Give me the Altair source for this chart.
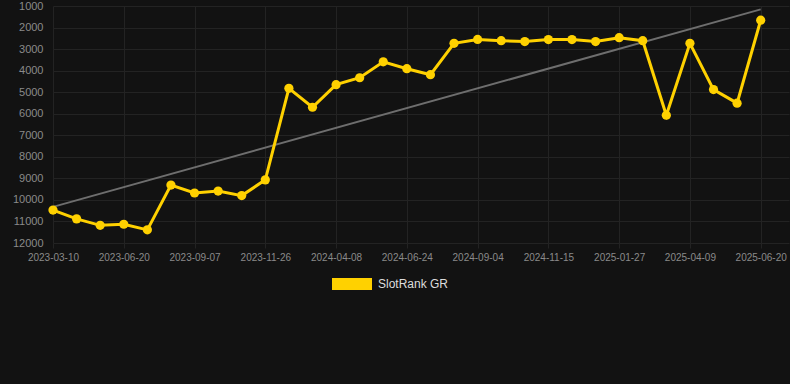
import altair as alt
import pandas as pd

# point index along the x axis (31 observations)
idx = list(range(31))
# rank values
rank = [10470, 10880, 11180, 11130, 11390, 9310, 9680, 9590, 9800, 9070,
        4820, 5700, 4650, 4330, 3590, 3910, 4190, 2730, 2550, 2610,
        2650, 2560, 2560, 2650, 2470, 2610, 6070, 2730, 4880, 5510, 1660]
series = ["SlotRank GR"] * 31

# tick labels (every third observation)
tick_labels = ["2023-03-10", "2023-06-20", "2023-09-07", "2023-11-26", "2024-04-08",
               "2024-06-24", "2024-09-04", "2024-11-15", "2025-01-27", "2025-04-09",
               "2025-06-20"]
y_ticks = [1000, 2000, 3000, 4000, 5000, 6000, 7000, 8000, 9000, 10000, 11000, 12000]

df = pd.DataFrame({"idx": idx, "rank": rank, "series": series})

YELLOW = "#FFD100"
label_expr = "[" + ",".join(f"'{t}'" for t in tick_labels) + "][round(datum.value/3)]"

x_enc = alt.X("idx:Q",
              scale=alt.Scale(domain=[0, 31.2], nice=False, zero=False),
              axis=alt.Axis(values=list(range(0, 31, 3)), labelExpr=label_expr,
                            title=None, grid=True, gridColor="#232323",
                            domain=False, ticks=True, tickColor="#232323", tickSize=5,
                            labelColor="#8a8a8a", labelFontSize=10, labelPadding=4,
                            labelOverlap=False, labelFlush=False, labelBound=False,
                            labelFont="Liberation Sans"))
y_enc = alt.Y("rank:Q",
              scale=alt.Scale(domain=[1000, 12000], reverse=True, nice=False, zero=False),
              axis=alt.Axis(values=y_ticks, format="d", title=None, grid=True,
                            gridColor="#232323", domain=False, ticks=False,
                            labelColor="#8a8a8a", labelFontSize=11, labelPadding=10,
                            labelOverlap=False, labelFlush=False,
                            labelFont="Liberation Sans"))

base = alt.Chart(df)

trend = base.transform_regression("idx", "rank", method="linear").mark_line(
    color="#6e6e6e", strokeWidth=2
).encode(x=x_enc, y=y_enc)

line = base.mark_line(color=YELLOW, strokeWidth=3).encode(x=x_enc, y=y_enc)

points = base.mark_circle(size=85, opacity=1).encode(
    x=x_enc, y=y_enc,
    color=alt.Color("series:N",
                    scale=alt.Scale(domain=["SlotRank GR"], range=[YELLOW]),
                    legend=alt.Legend(title=None, orient="none", legendX=279, legendY=258,
                                      symbolType="M-1,-0.3L1,-0.3L1,0.3L-1,0.3Z",
                                      symbolSize=1600, symbolStrokeWidth=0,
                                      symbolOpacity=1,
                                      labelColor="#dddddd", labelFontSize=12,
                                      labelFont="Liberation Sans", labelOffset=6))
)

chart = alt.layer(trend, line, points).properties(
    width=736, height=237,
    background="#121212",
    padding={"left": 53, "top": 6, "right": 1, "bottom": 141},
    autosize=alt.AutoSizeParams(type="none"),
).configure_view(stroke=None)

chart.save("out.html", embed_options={"renderer": "svg", "actions": False})
